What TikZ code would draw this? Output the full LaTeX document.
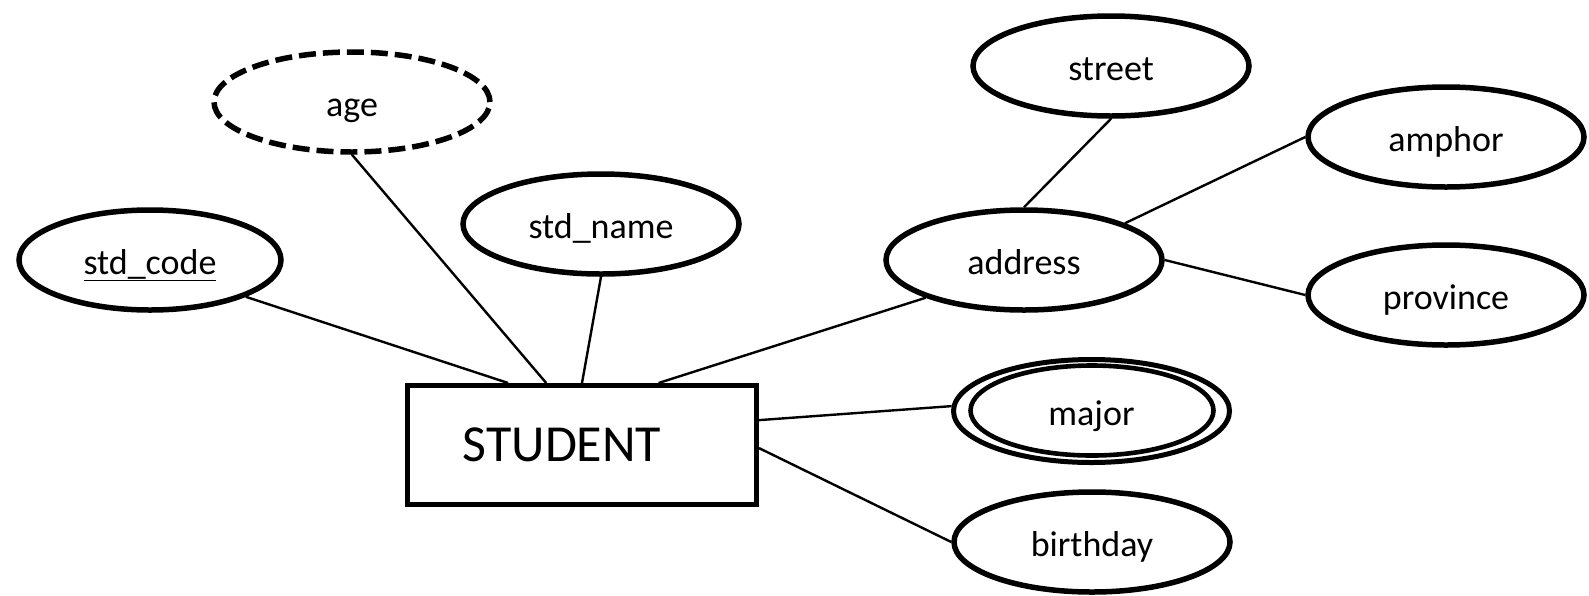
\documentclass[tikz,border=0pt]{standalone}
\usepackage{fontspec}
\setmainfont{Carlito}
\usetikzlibrary{shapes.geometric}
\begin{document}
\begin{tikzpicture}[x=1pt,y=-1pt,
  attr/.style={ellipse, draw, line width=5.5pt, minimum width=276pt,
    minimum height=100pt, inner sep=0pt, text height=30pt, text depth=2pt,
    font=\fontsize{36}{40}\selectfont},
  entity/.style={rectangle, draw, line width=5pt, minimum width=349pt,
    minimum height=119pt, inner sep=0pt, font=\fontsize{52}{60}\selectfont},
  link/.style={line width=2.4pt}]
\useasboundingbox[fill=white] (0,0) rectangle (1589,595);

% entity, its name set a little left of centre
\node[entity] (student) at (582,445) {STUDENT\rule{40pt}{0pt}};

% attributes
\node[attr, minimum width=262pt] (stdcode) at (150,260) {\underline{std\_code}};
\node[attr, dash pattern=on 17pt off 7pt] (age) at (352,102) {age};
\node[attr] (stdname) at (601,224) {std\_name};
\node[attr] (address) at (1024,260) {address};
\node[attr] (street) at (1111,66) {street};
\node[attr] (amphor) at (1446,137) {amphor};
\node[attr] (province) at (1446,295) {province};
% multivalued attribute: two nested ellipses
\node[attr, minimum width=276pt, minimum height=103pt, line width=5pt] (major) at (1091.5,411) {major};
\node[attr, minimum width=243pt, minimum height=90pt, line width=4.6pt] (majorin) at (1092,410.5) {};
\node[attr] (birthday) at (1092,542) {birthday};

% connectors
\draw[link] (stdcode.-21.4) -- (student.140.4);
\draw[link] (age.-90) -- (student.120.8);
\draw[link] (stdname.south) -- (student.north);
\draw[link] (address.-159) -- (student.39.2);
\draw[link] (street.south) -- (address.north);
\draw[link] (address.20.7) -- (amphor.west);
\draw[link] (address.east) -- (province.west);
\draw[link] (student.8.7) -- (major.178);
\draw[link] (student.-1) -- (birthday.west);
\end{tikzpicture}
\end{document}
